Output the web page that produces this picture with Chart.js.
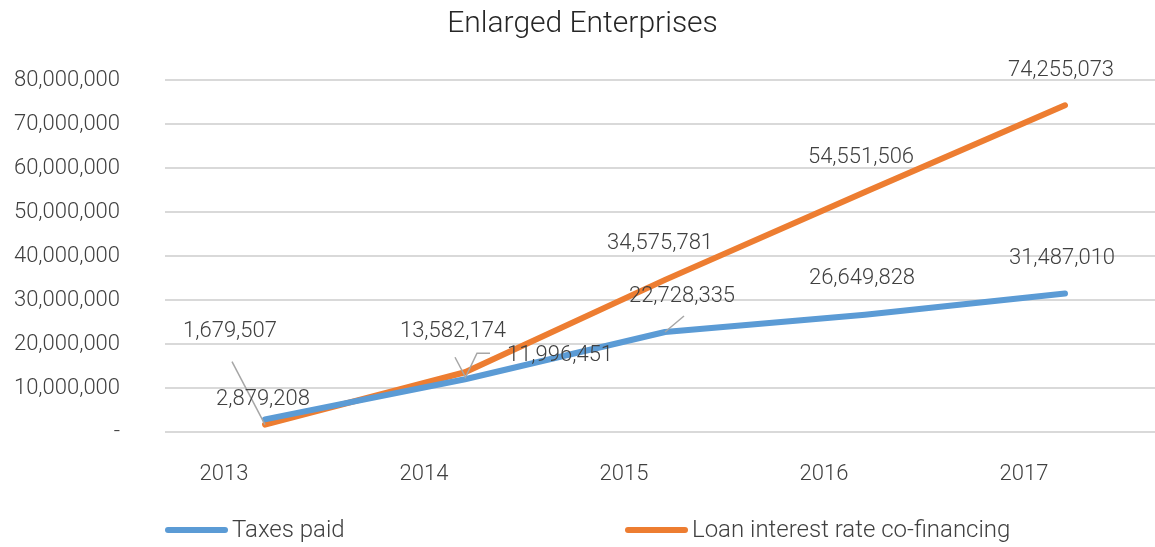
<!DOCTYPE html>
<html>
<head>
<meta charset="utf-8">
<script src="https://cdn.jsdelivr.net/npm/chart.js@4/dist/chart.umd.min.js"></script>
<style>
  html, body { margin: 0; padding: 0; background: #ffffff; overflow: hidden; }
  #wrap { width: 1182px; height: 547px; }
</style>
</head>
<body>
<div id="wrap"><canvas id="c" width="1182" height="547"></canvas></div>
<script>
// ---- data ----
const categories = ["2013", "2014", "2015", "2016", "2017"];
const taxesPaid = [2879208, 11996451, 22728335, 26649828, 31487010];
const loanCoFinancing = [1679507, 13582174, 34575781, 54551506, 74255073];
const yTicks = [0, 10000000, 20000000, 30000000, 40000000, 50000000, 60000000, 70000000, 80000000];
const seriesNames = ["Taxes paid", "Loan interest rate co-financing"];

const FONT = "Roboto, 'Liberation Sans', sans-serif";
const TEXT = "#404040";

const fmt = v => v === 0 ? "-" : v.toLocaleString("en-US");

// data label plugin: text offsets (px from point) and leader lines
const dataLabelPlugin = {
  id: "dataLabels",
  afterDatasetsDraw(chart, args, opts) {
    const ctx = chart.ctx;
    ctx.save();
    chart.data.datasets.forEach((ds, di) => {
      const meta = chart.getDatasetMeta(di);
      meta.data.forEach((pt, i) => {
        const lead = opts.leaders[di][i];
        if (lead) {
          ctx.beginPath();
          ctx.strokeStyle = "#a6a6a6";
          ctx.lineWidth = 1.5;
          lead.forEach((p, k) => {
            const x = pt.x + p[0], y = pt.y + p[1];
            if (k === 0) ctx.moveTo(x, y); else ctx.lineTo(x, y);
          });
          ctx.stroke();
        }
      });
    });
    ctx.font = "300 22px " + FONT;
    ctx.fillStyle = TEXT;
    ctx.textAlign = "center";
    ctx.textBaseline = "middle";
    chart.data.datasets.forEach((ds, di) => {
      const meta = chart.getDatasetMeta(di);
      meta.data.forEach((pt, i) => {
        const off = opts.offsets[di][i];
        ctx.fillText(fmt(ds.data[i]), pt.x + off[0], pt.y + off[1]);
      });
    });
    ctx.restore();
  }
};

// custom legend matching the spread-out layout
const legendPlugin = {
  id: "spreadLegend",
  afterDraw(chart, args, opts) {
    const ctx = chart.ctx;
    ctx.save();
    chart.data.datasets.forEach((ds, di) => {
      const x0 = opts.starts[di];
      const y = opts.y;
      ctx.beginPath();
      ctx.strokeStyle = ds.borderColor;
      ctx.lineWidth = ds.borderWidth;
      ctx.lineCap = "round";
      ctx.moveTo(x0 + 3, y);
      ctx.lineTo(x0 + opts.lineLen - 3, y);
      ctx.stroke();
      ctx.font = "300 24px " + FONT;
      ctx.fillStyle = TEXT;
      ctx.textAlign = "left";
      ctx.textBaseline = "middle";
      ctx.fillText(ds.label, x0 + opts.lineLen + 4, y + 1);
    });
    ctx.restore();
  }
};

new Chart(document.getElementById("c"), {
  type: "line",
  data: {
    labels: categories,
    datasets: [
      {
        label: seriesNames[0],
        data: taxesPaid,
        borderColor: "#5b9bd5",
        backgroundColor: "#5b9bd5",
        borderWidth: 6,
        borderCapStyle: "round",
        borderJoinStyle: "round",
        pointRadius: 0,
        tension: 0
      },
      {
        label: seriesNames[1],
        data: loanCoFinancing,
        borderColor: "#ed7d31",
        backgroundColor: "#ed7d31",
        borderWidth: 6,
        borderCapStyle: "round",
        borderJoinStyle: "round",
        pointRadius: 0,
        tension: 0
      }
    ]
  },
  options: {
    responsive: false,
    animation: false,
    layout: { padding: { left: 0, right: 17, top: 0, bottom: 55 } },
    plugins: {
      legend: { display: false },
      tooltip: { enabled: false },
      title: {
        display: true,
        text: "Enlarged Enterprises",
        color: "#262626",
        font: { family: FONT, size: 30, weight: "300" },
        padding: { top: 6, bottom: 38 }
      },
      dataLabels: {
        offsets: [
          [[-2, -20], [95, -24], [17, -35], [-3, -36], [-3, -35]],
          [[-35, -93], [-12, -41], [-5, -36], [-4, -34], [-4, -35]]
        ],
        leaders: [
          [null, [[25, -26], [12, -26], [0, -1]], [[19, -16], [0, 0]], null, null],
          [[[-33, -63], [0, 0]], [[-10, -15], [0, 4]], null, null, null]
        ]
      },
      spreadLegend: { starts: [165, 625], lineLen: 63, y: 530 }
    },
    scales: {
      x: {
        offset: true,
        grid: { display: false },
        border: { display: false },
        ticks: {
          color: TEXT,
          font: { family: FONT, size: 22, weight: "300" },
          padding: 21,
          labelOffset: -41,
          maxRotation: 0
        },
        afterFit(scale) { scale.height = 60; }
      },
      y: {
        min: 0,
        max: 80000000,
        afterBuildTicks(scale) { scale.ticks = yTicks.map(v => ({ value: v })); },
        grid: { color: "#d9d9d9", lineWidth: 2, drawTicks: false },
        border: { display: false },
        ticks: {
          color: TEXT,
          font: { family: FONT, size: 22, weight: "300" },
          padding: 45,
          callback: v => fmt(v)
        },
        afterFit(scale) { scale.width = 165; }
      }
    }
  },
  plugins: [dataLabelPlugin, legendPlugin]
});
</script>
</body>
</html>
